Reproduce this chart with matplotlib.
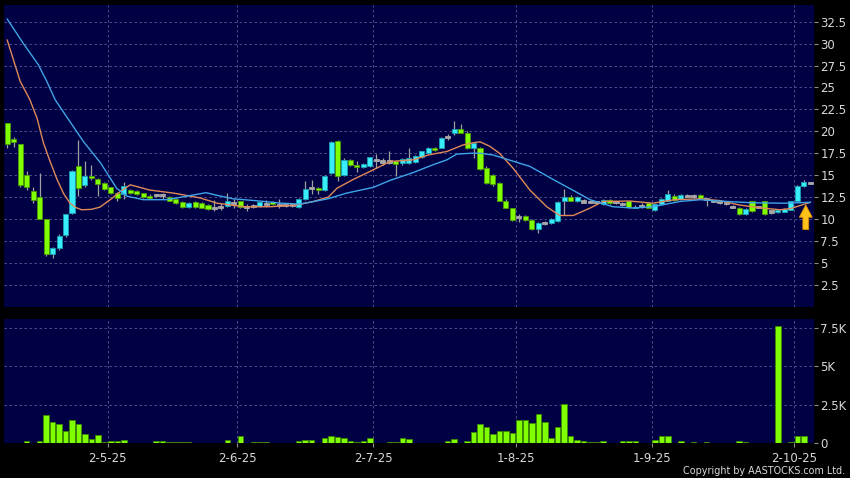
import numpy as np
import matplotlib.pyplot as plt
from matplotlib.patches import FancyArrow

# daily candles, index 0 = first trading day shown
opens = [21.0, 19.1, 18.5, 15.0, 13.2, 12.5, 10.0, 6.0, 6.7, 8.2,
         10.7, 16.0, 13.9, 14.9, 14.6, 14.1, 13.6, 13.0, 12.8, 13.3,
         13.2, 12.95, 12.65, 12.75, 12.7, 12.5, 12.3, 11.9, 11.35, 11.9,
         11.8, 11.6, 11.3, 11.4, 11.5, 11.8, 12.0, 11.35, 11.5, 11.5,
         11.75, 11.9, 11.6, 11.55, 11.6, 11.4, 12.3, 13.5, 13.5, 13.3,
         15.2, 18.9, 15.0, 16.75, 16.2, 15.9, 16.0, 16.75, 16.55, 16.55,
         16.6, 16.35, 16.4, 16.45, 17.1, 17.5, 18.1, 18.15, 19.3, 19.85,
         20.25, 19.85, 18.15, 18.1, 15.8, 15.0, 14.1, 12.1, 11.2, 10.2,
         10.3, 9.9, 8.85, 9.55, 9.5, 9.8, 12.1, 12.5, 12.0, 12.0,
         11.95, 11.9, 11.7, 12.2, 11.9, 11.7, 12.0, 11.3, 11.5, 11.8,
         11.05, 11.75, 12.1, 12.65, 12.3, 12.65, 12.6, 12.75, 12.3, 12.1,
         11.9, 11.8, 11.4, 11.3, 10.6, 12.0, 11.4, 12.0, 10.85, 10.85,
         10.85, 11.05, 12.0, 13.8, 14.1]
highs = [21.0, 19.4, 18.6, 15.5, 13.6, 15.2, 10.0, 6.8, 8.3, 10.6,
         15.6, 19.0, 16.6, 16.2, 14.7, 14.2, 13.7, 13.1, 14.2, 13.4,
         13.3, 13.0, 12.8, 12.9, 13.0, 12.6, 12.4, 12.0, 11.9, 12.0,
         11.9, 11.7, 12.2, 11.8, 13.0, 12.3, 12.1, 11.7, 11.7, 12.0,
         12.2, 12.0, 12.3, 11.7, 11.7, 12.4, 14.3, 14.5, 13.7, 15.0,
         18.9, 19.0, 17.0, 16.8, 16.6, 16.4, 17.1, 17.4, 17.0, 17.8,
         16.7, 16.9, 18.1, 17.3, 17.8, 18.2, 18.2, 19.3, 19.7, 21.2,
         20.8, 20.0, 18.8, 18.2, 16.0, 15.1, 14.2, 12.3, 11.3, 10.6,
         10.5, 10.0, 9.6, 9.8, 10.1, 12.0, 13.4, 12.7, 12.6, 12.3,
         12.2, 12.1, 12.3, 12.3, 12.1, 11.9, 12.1, 11.6, 11.8, 11.9,
         11.8, 12.4, 13.3, 12.8, 12.9, 12.9, 12.8, 12.8, 12.4, 12.2,
         12.0, 11.9, 11.6, 11.4, 11.2, 12.1, 11.5, 12.1, 11.0, 11.1,
         11.2, 12.1, 13.9, 14.4, 14.2]
lows = [18.1, 18.2, 13.6, 13.3, 11.8, 10.0, 5.8, 5.5, 6.5, 8.0,
        10.6, 12.6, 13.7, 14.4, 12.6, 13.3, 12.9, 12.0, 12.3, 12.8,
        12.7, 12.4, 12.3, 12.5, 12.3, 12.0, 11.7, 11.3, 11.2, 11.3,
        11.2, 11.0, 10.9, 11.0, 11.4, 11.3, 11.3, 10.9, 11.3, 11.4,
        11.4, 11.6, 11.2, 11.4, 11.4, 11.3, 12.2, 12.9, 12.9, 13.2,
        15.1, 14.3, 14.9, 16.0, 15.4, 15.8, 15.9, 15.8, 16.2, 16.3,
        14.9, 16.2, 16.3, 16.4, 17.0, 17.4, 17.8, 18.1, 19.0, 19.6,
        19.8, 18.0, 16.9, 15.6, 14.0, 13.8, 12.0, 11.2, 9.8, 9.6,
        9.8, 8.8, 8.4, 9.3, 9.4, 9.7, 10.5, 12.0, 11.9, 11.8,
        11.8, 11.7, 11.6, 11.7, 11.7, 11.5, 11.3, 11.2, 11.3, 11.2,
        10.9, 11.7, 12.0, 12.1, 12.2, 12.5, 12.4, 12.3, 11.5, 11.9,
        11.7, 11.6, 11.2, 10.5, 10.5, 10.8, 11.2, 10.5, 10.6, 10.7,
        10.8, 11.0, 11.9, 13.7, 14.0]
closes = [18.5, 18.8, 13.9, 13.6, 12.2, 10.0, 6.0, 6.7, 8.1, 10.6,
          15.5, 13.5, 14.9, 14.7, 14.0, 13.4, 13.0, 12.4, 13.8, 12.95,
          12.85, 12.5, 12.35, 12.75, 12.7, 12.1, 11.8, 11.35, 11.8, 11.35,
          11.3, 11.1, 11.3, 11.4, 12.0, 11.8, 11.4, 11.35, 11.5, 11.9,
          11.75, 11.7, 11.6, 11.55, 11.6, 12.3, 13.4, 13.5, 13.25, 14.9,
          18.8, 14.85, 16.75, 16.2, 15.95, 16.25, 17.05, 16.75, 16.55, 16.55,
          16.3, 16.8, 16.9, 17.2, 17.7, 18.1, 17.85, 19.2, 19.3, 20.25,
          19.85, 18.1, 18.7, 15.7, 14.1, 14.0, 12.1, 11.3, 9.9, 10.2,
          9.9, 8.85, 9.5, 9.55, 10.0, 11.9, 12.5, 12.1, 12.5, 12.0,
          11.95, 11.9, 12.2, 11.85, 11.9, 11.7, 11.4, 11.4, 11.5, 11.3,
          11.7, 12.3, 12.85, 12.2, 12.75, 12.65, 12.6, 12.4, 12.3, 12.1,
          11.9, 11.8, 11.4, 10.6, 11.1, 10.9, 11.4, 10.6, 10.85, 11.0,
          11.1, 12.0, 13.8, 14.2, 14.1]
volumes = [20, 40, 40, 175, 40, 150, 1820, 1385, 1275, 780,
           1555, 1275, 630, 260, 540, 90, 130, 130, 195, 45,
           20, 30, 45, 130, 150, 90, 65, 65, 90, 45,
           45, 45, 45, 45, 215, 45, 500, 45, 65, 65,
           65, 30, 30, 30, 30, 130, 240, 240, 45, 345,
           475, 435, 345, 175, 110, 130, 345, 45, 10, 110,
           110, 325, 280, 10, 10, 10, 45, 45, 130, 260,
           45, 150, 715, 1235, 1080, 585, 820, 820, 690, 1535,
           1535, 1320, 1905, 1425, 365, 1040, 2575, 500, 240, 130,
           110, 110, 130, 45, 45, 130, 130, 130, 45, 45,
           195, 455, 455, 45, 130, 45, 85, 30, 85, 30,
           45, 30, 45, 150, 85, 30, 45, 30, 30, 7615,
           45, 110, 455, 455, 30]

# moving averages (bar index, price)
ma_fast_idx = [0, 2, 3.5, 4.6, 5.6, 6.7, 7.7, 8.7, 9.7, 10.6, 11.5, 13, 14.3,
               15.9, 17.4, 19, 22, 25.7, 29.8, 32.4, 36.6, 40.7, 44.7, 47.3,
               49.6, 50.9, 53.4, 56.5, 59.1, 62.7, 65, 67.9, 70.4, 72, 73,
               74.5, 76, 78.1, 80.7, 83.3, 85.3, 87.4, 90, 92, 96.1, 99.7,
               103, 107, 110, 113, 116, 119.3, 121, 124]
ma_fast_val = [30.4, 25.7, 23.6, 21.5, 18.65, 16.4, 14.5, 12.9, 11.8, 11.3,
               11.05, 11.1, 11.35, 12.2, 13.1, 13.9, 13.3, 12.95, 12.4, 11.8,
               11.4, 11.4, 11.6, 12.0, 12.5, 13.5, 14.5, 15.6, 16.55, 16.75,
               17.3, 17.7, 18.45, 18.7, 18.8, 18.3, 17.5, 15.8, 13.3, 11.4,
               10.4, 10.4, 11.25, 12.0, 12.05, 11.8, 12.2, 12.3, 12.1, 11.6,
               11.3, 11.05, 11.2, 11.9]
ma_slow_idx = [0, 2.5, 4.8, 6.1, 7.4, 9.5, 11.8, 14.4, 16.9, 18.5, 21, 24.6,
               27.7, 30.7, 32.4, 34.9, 38.2, 42.4, 45.2, 49.5, 52.4, 56.5,
               59.1, 62.7, 65.8, 67.9, 69.4, 71.7, 73, 75, 80.7, 84.8, 87.3,
               90, 93.5, 96.6, 99.7, 103.9, 107, 111, 115, 120, 124]
ma_slow_val = [32.8, 30.0, 27.6, 25.7, 23.6, 21.3, 18.8, 16.4, 13.5, 12.6,
               12.2, 12.2, 12.6, 13.0, 12.7, 12.3, 12.1, 11.8, 11.7, 12.3,
               12.95, 13.6, 14.4, 15.3, 16.2, 16.75, 17.4, 17.5, 17.5, 17.3,
               16.0, 14.3, 13.3, 12.2, 11.4, 11.25, 11.4, 12.0, 12.2, 12.0,
               11.85, 11.8, 11.9]

date_idx = [16, 36, 57, 79, 100, 122]
date_labels = ['2-5-25', '2-6-25', '2-7-25', '1-8-25', '1-9-25', '2-10-25']

price_ticks = [2.5, 5, 7.5, 10, 12.5, 15, 17.5, 20, 22.5, 25, 27.5, 30, 32.5]
vol_ticks = [0, 2500, 5000, 7500]
vol_labels = ['0', '2.5K', '5K', '7.5K']

BG = '#000044'
GRID = '#5a5a90'
TXT = '#d8d8d8'
UP = '#38ecfa'
DOWN = '#80ff00'
DOJI = '#a8a8a8'

o = np.array(opens)
h = np.array(highs)
l = np.array(lows)
c = np.array(closes)
x = np.arange(len(o))

fig = plt.figure(figsize=(8.5, 4.78), dpi=100, facecolor='black')
ax1 = fig.add_axes([0.0047, 0.3584, 0.9524, 0.6311], facecolor=BG)
ax2 = fig.add_axes([0.0047, 0.0722, 0.9524, 0.2604], facecolor=BG)

grid_x = [d - 0.5 for d in date_idx]

for ax in (ax1, ax2):
    for s in ax.spines.values():
        s.set_visible(False)
    ax.yaxis.tick_right()
    ax.tick_params(axis='y', colors='#909090', labelcolor=TXT, labelsize=8.5,
                   length=3, width=0.8, pad=2)
    ax.set_xlim(-0.5, len(o) - 0.5)
    ax.set_xticks(grid_x)
    ax.grid(True, color=GRID, linestyle=(0, (3, 3)), linewidth=0.6)
    ax.set_axisbelow(True)

# candles
diff = c - o
doji = np.abs(diff) < 0.05
colors = np.where(doji, DOJI, np.where(diff > 0, UP, DOWN))
edges = np.where(doji, DOJI, np.where(diff > 0, '#1a9fb0', '#4c9a00'))
bottoms = np.where(doji, o - 0.12, np.minimum(o, c))
heights = np.where(doji, 0.24, np.abs(diff))

ax1.vlines(x, l, h, color='#a0a0a0', linewidth=0.9, zorder=2)
ax1.bar(x, heights, bottom=bottoms, width=0.78, color=colors,
        edgecolor=edges, linewidth=0.6, zorder=3)

ax1.plot(ma_fast_idx, ma_fast_val, color='#e08a58', linewidth=1.0, zorder=4)
ax1.plot(ma_slow_idx, ma_slow_val, color='#40a4e8', linewidth=1.0, zorder=4)

# yellow arrow marker near last bar
ax1.add_patch(FancyArrow(123.3, 8.8, 0, 2.8, width=0.9, head_width=2.0,
                         head_length=1.4, length_includes_head=True,
                         facecolor='#ffc21a', edgecolor='#d99000',
                         linewidth=0.6, zorder=5))

ax1.set_ylim(0, 34.4)
ax1.set_yticks(price_ticks)
ax1.set_yticklabels([f'{v:g}' for v in price_ticks])
ax1.tick_params(axis='x', length=0, labelbottom=False)

# volume
ax2.bar(x, volumes, width=0.85, color=DOWN, edgecolor='#3c8a00',
        linewidth=0.6, zorder=3)
ax2.set_ylim(0, 8070)
ax2.set_yticks(vol_ticks)
ax2.set_yticklabels(vol_labels)
ax2.set_xticklabels(date_labels)
ax2.tick_params(axis='x', colors='#909090', labelcolor=TXT, labelsize=8.5,
                length=3, width=0.8, pad=3)

fig.text(0.994, 0.004, 'Copyright by AASTOCKS.com Ltd.', ha='right',
         va='bottom', color=TXT, fontsize=6.9)

fig.savefig('out.png', dpi=100, facecolor='black')
